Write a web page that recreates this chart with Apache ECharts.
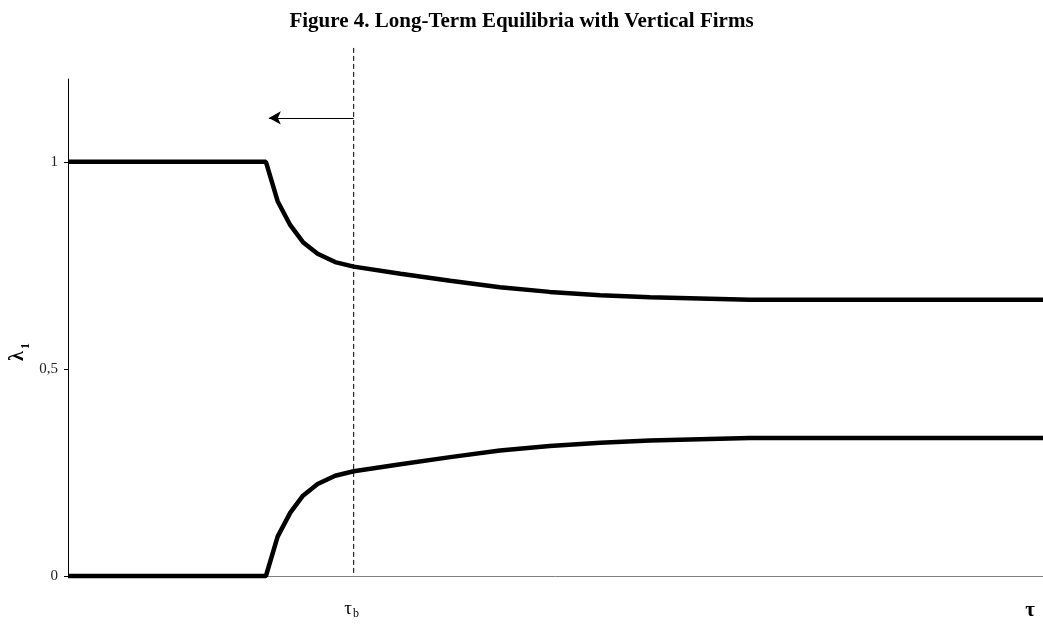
<!DOCTYPE html>
<html><head><meta charset="utf-8">
<script src="https://cdn.jsdelivr.net/npm/echarts@6/dist/echarts.min.js"></script>
<style>html,body{margin:0;padding:0;background:#fff}#c{width:1043px;height:624px}</style>
</head><body><div id="c"></div>
<script>
// x positions (arbitrary tau units, 0..100) and lambda_1 values
const tauValues = [0, 20.3, 21.5, 22.8, 24.1, 25.6, 27.4, 29.3, 34.1, 39.2, 44.3, 49.4, 54.6, 59.7, 64.8, 69.9, 100];
const upperValues = [1, 1, 0.905, 0.847, 0.806, 0.778, 0.758, 0.747, 0.730, 0.713, 0.697, 0.686, 0.678, 0.673, 0.670, 0.667, 0.667];
const lowerValues = upperValues.map(v => +(1 - v).toFixed(3));
const tauB = 29.3;
const yTicks = [0, 0.5, 1];
const yTickLabels = {"0": "0", "0.5": "0,5", "1": "1"};

const chart = echarts.init(document.getElementById('c'), null, {renderer: 'canvas'});
const serif = '"Liberation Serif", "DejaVu Serif", serif';
chart.setOption({
  animation: false,
  backgroundColor: '#fff',
  title: {
    text: 'Figure 4. Long-Term Equilibria with Vertical Firms',
    left: 'center', top: 6,
    textStyle: {fontFamily: serif, fontWeight: 'bold', fontSize: 21, color: '#000'}
  },
  grid: {left: 68, right: 0, top: 79, bottom: 48},
  xAxis: {
    type: 'value', min: 0, max: 100,
    axisLine: {show: true, onZero: false, lineStyle: {color: '#808080', width: 1}},
    axisTick: {show: false}, axisLabel: {show: false}, splitLine: {show: false}
  },
  yAxis: {
    type: 'value', min: 0, max: 1.2, interval: 0.1,
    axisLine: {show: true, lineStyle: {color: '#000', width: 1}},
    axisTick: {show: true, inside: false, length: 4, lineStyle: {color: '#000'},
      customValues: yTicks},
    axisLabel: {fontFamily: serif, fontSize: 15, color: '#222', margin: 10,
      customValues: yTicks,
      formatter: v => yTickLabels[String(v)] ?? ''},
    splitLine: {show: false}
  },
  graphic: [
    {type: 'text', x: 18, y: 356, rotation: Math.PI / 2, style: {
      text: 'λ', font: 'bold 20px ' + serif, fill: '#000', textAlign: 'center', textVerticalAlign: 'middle'}},
    {type: 'text', x: 26, y: 346, rotation: Math.PI / 2, style: {
      text: '1', font: 'bold 12px ' + serif, fill: '#000', textAlign: 'center', textVerticalAlign: 'middle'}},
    {type: 'text', x: 348, y: 609, style: {
      text: 'τ', font: '19px ' + serif, fill: '#000', textAlign: 'center', textVerticalAlign: 'middle'}},
    {type: 'text', x: 356, y: 614, style: {
      text: 'b', font: '12px ' + serif, fill: '#000', textAlign: 'center', textVerticalAlign: 'middle'}},
    {type: 'text', x: 1030, y: 611, style: {
      text: 'τ', font: 'bold 21px ' + serif, fill: '#000', textAlign: 'center', textVerticalAlign: 'middle'}}
  ],
  series: [
    {type: 'line', data: tauValues.map((x, i) => [x, upperValues[i]]), symbol: 'none',
      lineStyle: {color: '#000', width: 4.5}, clip: false, z: 5},
    {type: 'line', data: tauValues.map((x, i) => [x, lowerValues[i]]), symbol: 'none',
      lineStyle: {color: '#000', width: 4.5}, clip: false, z: 5},
    {type: 'line', data: [[tauB, 1.275], [tauB, 0]], symbol: 'none', clip: false,
      lineStyle: {color: '#000', width: 1, type: [5, 3]}, z: 3,
      markLine: {silent: true, symbol: ['none', 'arrow'], symbolSize: [10, 12],
        label: {show: false},
        lineStyle: {color: '#000', width: 1, type: 'solid'},
        data: [[{coord: [tauB, 1.106]}, {coord: [20.6, 1.106]}]]}}
  ]
});
</script></body></html>
